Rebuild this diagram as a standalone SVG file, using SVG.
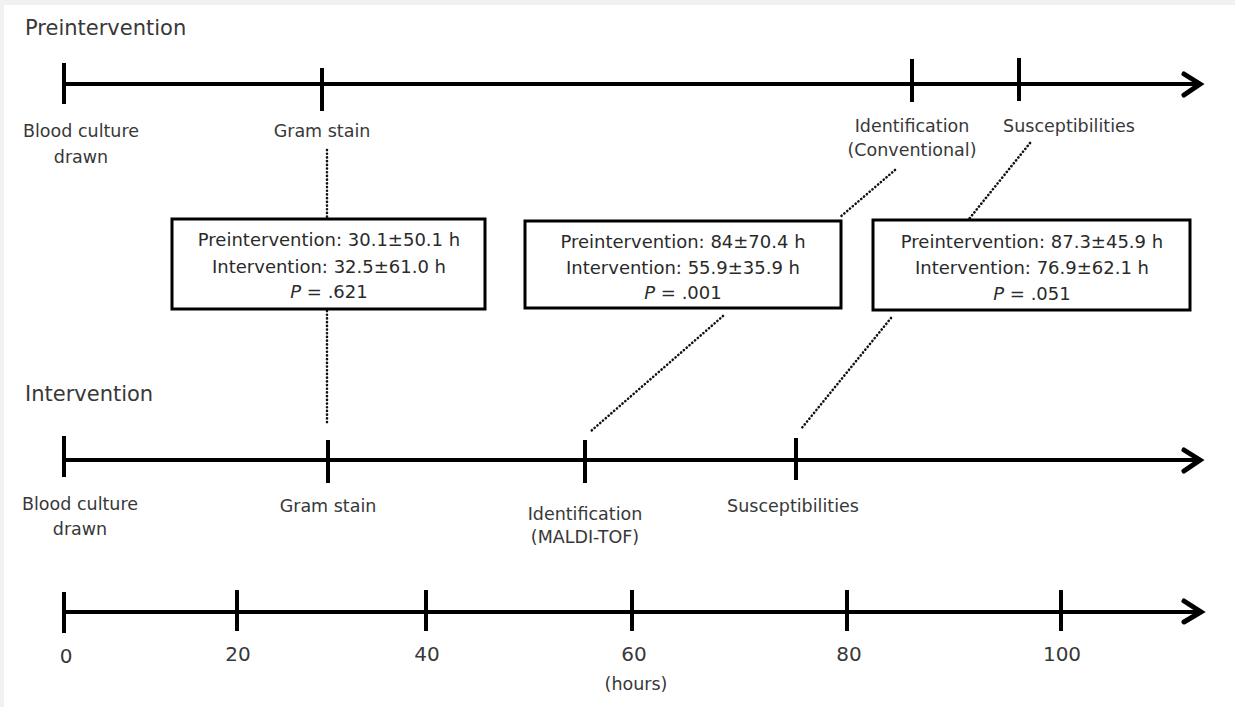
<svg xmlns="http://www.w3.org/2000/svg" width="1235" height="707" viewBox="0 0 1235 707">
<style>
text{font-family:"DejaVu Sans","Liberation Sans",sans-serif;fill:#383838;}
.lbl{font-size:17.5px;text-anchor:middle;}
.num{font-size:20px;text-anchor:middle;}
.ttl{font-size:21px;}
.box text{font-size:18px;text-anchor:middle;fill:#2a2a2a;}
.axis{stroke:#000;stroke-width:4;fill:none;}
.tick{stroke:#000;stroke-width:4;}
.head{stroke:#000;stroke-width:5;fill:none;stroke-linecap:round;stroke-linejoin:miter;}
.dot{stroke:#111;stroke-width:2.6;stroke-dasharray:0.1 3.6;stroke-linecap:round;fill:none;}
.boxr{fill:#fff;stroke:#000;stroke-width:3;}
</style>
<rect x="0" y="0" width="1235" height="707" fill="#f1f1f1"/>
<rect x="4" y="5" width="1231" height="702" fill="#fff"/>

<g id="connectors">
<line class="dot" x1="327" y1="150" x2="327" y2="217"/>
<line class="dot" x1="327" y1="311" x2="327" y2="425"/>
<line class="dot" x1="895" y1="170" x2="839" y2="218"/>
<line class="dot" x1="1030" y1="143" x2="969" y2="219"/>
<line class="dot" x1="723" y1="316" x2="591" y2="431"/>
<line class="dot" x1="891" y1="318" x2="801" y2="429"/>
</g>

<g id="timeline-preintervention">
<text class="ttl" x="25" y="35">Preintervention</text>
<line class="axis" x1="64" y1="84" x2="1198" y2="84"/>
<polyline class="head" points="1184,74 1200,84 1184,95"/>
<line class="tick" x1="64" y1="63" x2="64" y2="104"/>
<line class="tick" x1="322" y1="68" x2="322" y2="111"/>
<line class="tick" x1="912" y1="59" x2="912" y2="102"/>
<line class="tick" x1="1019" y1="58" x2="1019" y2="101"/>
</g>
<g id="pre-blood"><text class="lbl" x="81" y="137">Blood culture</text><text class="lbl" x="81" y="163">drawn</text></g>
<g id="pre-gram"><text class="lbl" x="322" y="137">Gram stain</text></g>
<g id="pre-ident"><text class="lbl" x="912" y="132">Identification</text><text class="lbl" x="912" y="156">(Conventional)</text></g>
<g id="pre-susc"><text class="lbl" x="1069" y="132">Susceptibilities</text></g>

<g id="box-gram" class="box">
<rect class="boxr" x="172" y="219" width="313" height="90"/>
<text x="329" y="246">Preintervention: 30.1±50.1 h</text>
<text x="329" y="273">Intervention: 32.5±61.0 h</text>
<text x="329" y="298"><tspan font-style="italic">P</tspan> =  .621</text>
</g>
<g id="box-ident" class="box">
<rect class="boxr" x="525" y="221" width="316" height="87"/>
<text x="683" y="248">Preintervention: 84±70.4 h</text>
<text x="683" y="274">Intervention: 55.9±35.9 h</text>
<text x="683" y="299"><tspan font-style="italic">P</tspan> =  .001</text>
</g>
<g id="box-susc" class="box">
<rect class="boxr" x="873" y="220" width="317" height="90"/>
<text x="1032" y="248">Preintervention: 87.3±45.9 h</text>
<text x="1032" y="274">Intervention: 76.9±62.1 h</text>
<text x="1032" y="300"><tspan font-style="italic">P</tspan> =  .051</text>
</g>

<g id="timeline-intervention">
<text class="ttl" x="25" y="401">Intervention</text>
<line class="axis" x1="64" y1="460" x2="1198" y2="460"/>
<polyline class="head" points="1184,450 1200,460 1184,471"/>
<line class="tick" x1="64" y1="436" x2="64" y2="477"/>
<line class="tick" x1="328" y1="440" x2="328" y2="483"/>
<line class="tick" x1="585" y1="440" x2="585" y2="483"/>
<line class="tick" x1="796" y1="438" x2="796" y2="480"/>
</g>
<g id="int-blood"><text class="lbl" x="80" y="510">Blood culture</text><text class="lbl" x="80" y="535">drawn</text></g>
<g id="int-gram"><text class="lbl" x="328" y="512">Gram stain</text></g>
<g id="int-ident"><text class="lbl" x="585" y="520">Identification</text><text class="lbl" x="585" y="543">(MALDI-TOF)</text></g>
<g id="int-susc"><text class="lbl" x="793" y="512">Susceptibilities</text></g>

<g id="axis-hours">
<line class="axis" x1="64" y1="612" x2="1198" y2="612"/>
<polyline class="head" points="1184,601 1201,612 1184,622"/>
<line class="tick" x1="64" y1="592" x2="64" y2="633"/>
<line class="tick" x1="237" y1="590" x2="237" y2="631"/>
<line class="tick" x1="426" y1="590" x2="426" y2="631"/>
<line class="tick" x1="632" y1="590" x2="632" y2="631"/>
<line class="tick" x1="847" y1="590" x2="847" y2="631"/>
<line class="tick" x1="1061" y1="590" x2="1061" y2="631"/>
<text class="num" x="66" y="663">0</text>
<text class="num" x="238" y="661">20</text>
<text class="num" x="427" y="661">40</text>
<text class="num" x="634" y="661">60</text>
<text class="num" x="849" y="661">80</text>
<text class="num" x="1062" y="661">100</text>
<text class="lbl" x="636" y="690">(hours)</text>
</g>
</svg>
